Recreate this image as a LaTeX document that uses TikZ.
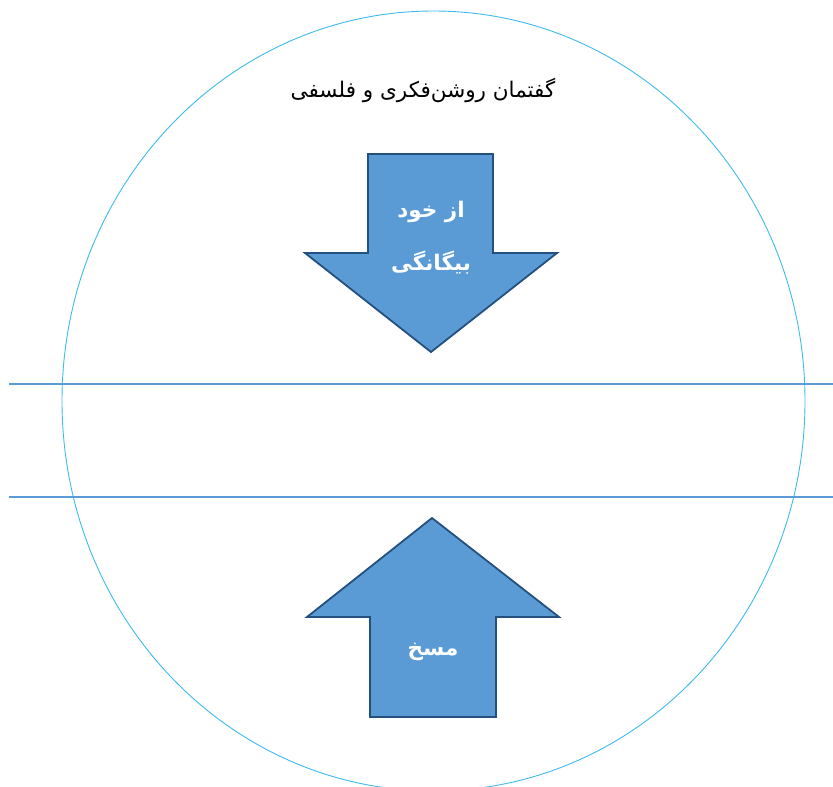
\documentclass[tikz,border=0pt]{standalone}
\usepackage{fontspec}
\newfontfamily\arabicfont[Script=Arabic]{DejaVu Sans}
\TeXXeTstate=1
\definecolor{ringc}{HTML}{3DBBEC}
\definecolor{linec}{HTML}{5B9BD5}
\definecolor{arrfill}{HTML}{5B9BD5}
\definecolor{arrdraw}{HTML}{24507E}
\tikzset{
  bigarrow/.style={fill=arrfill, draw=arrdraw, line width=1.8pt, line join=miter},
  sepline/.style={draw=linec, line width=1.4pt},
  arrtext/.style={text=white, font=\arabicfont\bfseries\fontsize{21.5}{26}\selectfont, align=center},
}
\begin{document}
\begin{tikzpicture}[x=1pt,y=-1pt]
\useasboundingbox (0,0) rectangle (833,787);
\begin{scope}
\clip (0,0) rectangle (833,787);
\draw[ringc, line width=0.9pt] (433.5,401) ellipse [x radius=371.5, y radius=390];
\end{scope}
\coordinate (l1a) at (9,384);
\coordinate (l1b) at (833,384);
\coordinate (l2a) at (9,497);
\coordinate (l2b) at (833,497);
\draw[sepline] (l1a) -- (l1b);
\draw[sepline] (l2a) -- (l2b);
% down arrow
\draw[bigarrow] (368,154) -- (493,154) -- (493,253) -- (557,253) -- (431,352) -- (305,253) -- (368,253) -- cycle;
% up arrow
\draw[bigarrow] (432,518) -- (559,617) -- (496,617) -- (496,717) -- (370,717) -- (370,617) -- (307,617) -- cycle;
\node[font=\arabicfont\fontsize{21.5}{26}\selectfont] (title) at (423,90) {\beginR گفتمان روشن‌فکری و فلسفی\endR};
\node[arrtext] (t1) at (431,212) {\beginR از خود\endR};
\node[arrtext] (t2) at (431,263) {\beginR بیگانگی\endR};
\node[arrtext] (t3) at (433,652) {\beginR مسخ\endR};
\end{tikzpicture}
\end{document}
